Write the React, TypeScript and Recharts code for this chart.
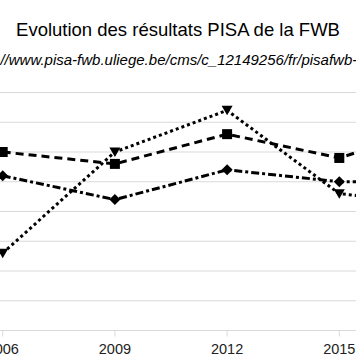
import React from 'react';
import { LineChart, Line, XAxis, YAxis, CartesianGrid } from 'recharts';

// scores PISA de la FWB
const years = [2006, 2009, 2012, 2015, 2018];
const lecture = [473, 490, 497, 483, 481];
const mathematiques = [490, 488, 493, 489, 495];
const sciences = [486, 482, 487, 485, 485];
const yTicks = [460, 465, 470, 475, 480, 485, 490, 495, 500];

const title = 'Evolution des résultats PISA de la FWB';
const source = 'http://www.pisa-fwb.uliege.be/cms/c_12149256/fr/pisafwb-publications';

const data = years.map((year, i) => ({
  year,
  lecture: lecture[i],
  mathematiques: mathematiques[i],
  sciences: sciences[i],
}));

const FONT = '"Liberation Sans", Arial, sans-serif';
const GRID = '#d9d9d9';

const TriangleDot = (props: any) => {
  const { cx, cy, index } = props;
  if (cx == null || cy == null) return <g key={`t-${index}`} />;
  return (
    <path
      key={`t-${index}`}
      d={`M${cx - 5.5},${cy - 4.5} L${cx + 5.5},${cy - 4.5} L${cx},${cy + 5} Z`}
      fill="#000"
    />
  );
};

const SquareDot = (props: any) => {
  const { cx, cy, index } = props;
  if (cx == null || cy == null) return <g key={`s-${index}`} />;
  return <rect key={`s-${index}`} x={cx - 5} y={cy - 5} width={10} height={10} fill="#000" />;
};

const DiamondDot = (props: any) => {
  const { cx, cy, index } = props;
  if (cx == null || cy == null) return <g key={`d-${index}`} />;
  return (
    <path
      key={`d-${index}`}
      d={`M${cx},${cy - 5.5} L${cx + 5.5},${cy} L${cx},${cy + 5.5} L${cx - 5.5},${cy} Z`}
      fill="#000"
    />
  );
};

export default function App() {
  return (
    <div
      style={{
        position: 'absolute',
        left: 0,
        top: 0,
        width: 356,
        height: 364,
        overflow: 'hidden',
        background: '#fff',
        fontFamily: FONT,
      }}
    >
      <svg width={356} height={80} style={{ position: 'absolute', left: 0, top: 0 }}>
        <text x={178} y={35.5} textAnchor="middle" fontSize={18.5} fill="#000" fontFamily={FONT}>
          {title}
        </text>
        <text x={-28.8} y={65.3} fontSize={15} fontStyle="italic" fill="#000" fontFamily={FONT}>
          {source}
        </text>
      </svg>
      <div style={{ position: 'absolute', left: -30, top: 0 }}>
        <LineChart
          width={520}
          height={364}
          data={data}
          margin={{ top: 92.5, right: 0, bottom: 3.5, left: 0 }}
        >
          <CartesianGrid vertical={false} stroke={GRID} />
          <XAxis
            dataKey="year"
            type="number"
            domain={[2006, 2018]}
            ticks={years}
            padding={{ left: 32.7, right: 38.5 }}
            height={30}
            tickSize={6}
            tickMargin={7}
            stroke={GRID}
            tick={{ fill: '#222', fontSize: 14.5, fontFamily: FONT }}
          />
          <YAxis hide domain={[460, 500]} ticks={yTicks} />
          <Line
            dataKey="lecture"
            stroke="#000"
            strokeWidth={3}
            strokeDasharray="3 3"
            dot={TriangleDot}
            activeDot={false}
            isAnimationActive={false}
          />
          <Line
            dataKey="mathematiques"
            stroke="#000"
            strokeWidth={3}
            strokeDasharray="8 5"
            dot={SquareDot}
            activeDot={false}
            isAnimationActive={false}
          />
          <Line
            dataKey="sciences"
            stroke="#000"
            strokeWidth={3}
            strokeDasharray="8 3 3 3"
            dot={DiamondDot}
            activeDot={false}
            isAnimationActive={false}
          />
        </LineChart>
      </div>
    </div>
  );
}
